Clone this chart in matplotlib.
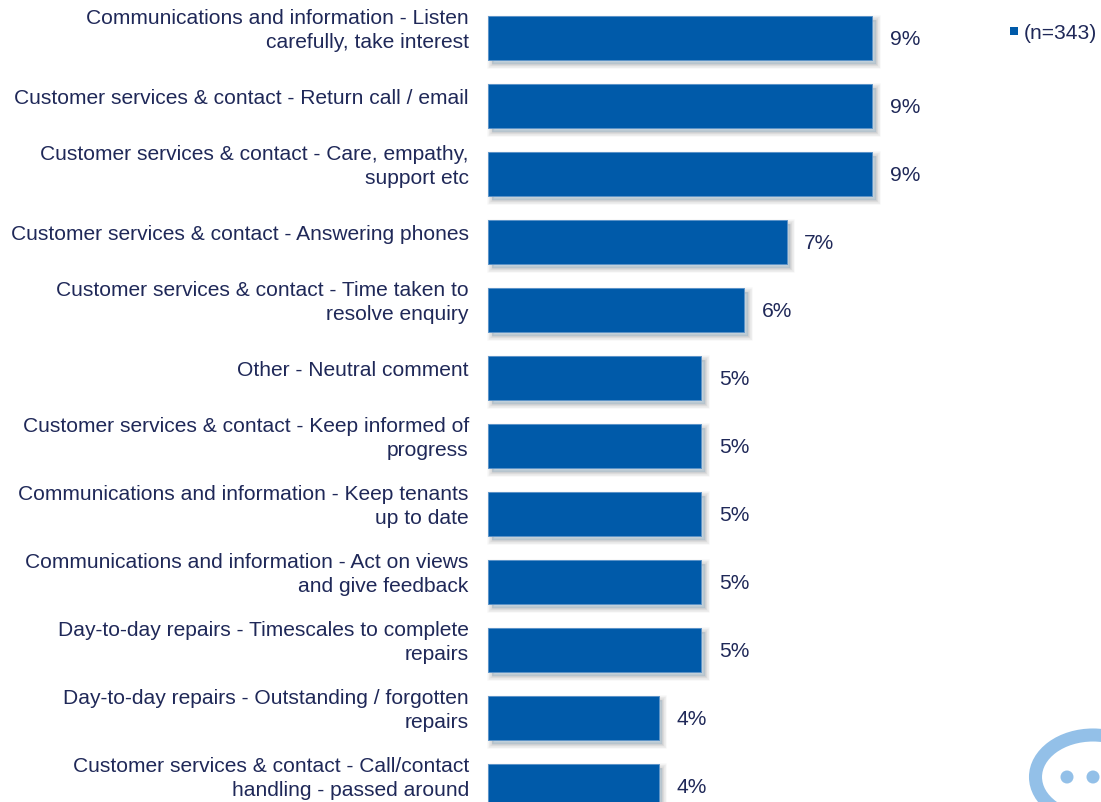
import matplotlib
matplotlib.use("Agg")
import matplotlib.pyplot as plt
import matplotlib.patheffects as pe
from matplotlib.patches import Ellipse, Circle, Rectangle

plt.rcParams['font.family'] = ['Liberation Sans', 'DejaVu Sans']

categories = [
    "Communications and information - Listen\ncarefully, take interest",
    "Customer services & contact - Return call / email",
    "Customer services & contact - Care, empathy,\nsupport etc",
    "Customer services & contact - Answering phones",
    "Customer services & contact - Time taken to\nresolve enquiry",
    "Other - Neutral comment",
    "Customer services & contact - Keep informed of\nprogress",
    "Communications and information - Keep tenants\nup to date",
    "Communications and information - Act on views\nand give feedback",
    "Day-to-day repairs - Timescales to complete\nrepairs",
    "Day-to-day repairs - Outstanding / forgotten\nrepairs",
    "Customer services & contact - Call/contact\nhandling - passed around",
]
values = [9, 9, 9, 7, 6, 5, 5, 5, 5, 5, 4, 4]
series_name = "(n=343)"

BAR_COLOR = "#005AA9"
EDGE_COLOR = "#5C93C8"
TEXT_COLOR = "#1F2858"
LOGO_COLOR = "#93C0E8"
FONT_SIZE = 15.1

W, H = 1101, 803
PX_PER_PCT = 42.65
ROW_PX = 68

fig = plt.figure(figsize=(W / 100, H / 100), dpi=100)
fig.patch.set_facecolor("white")

# bars axes fills the whole canvas, x=0 sits at the bar baseline
ax = fig.add_axes([0, 0, 1, 1])
ax.set_xlim(-488.2 / PX_PER_PCT, (W - 488.2) / PX_PER_PCT)
ax.set_ylim((H - 38.6) / ROW_PX, -38.6 / ROW_PX)
ax.axis('off')

# soft drop shadow: widening strokes at low alpha, nudged down and right
shadow = [
    pe.Stroke(offset=(2.5, -3), linewidth=w, foreground="#000000", alpha=0.022)
    for w in (7, 6, 5, 4, 3, 2, 1)
]
bars = ax.barh(range(len(values)), values, height=44 / ROW_PX,
               color=BAR_COLOR, edgecolor=EDGE_COLOR, linewidth=0.7)
for bar in bars:
    bar.set_path_effects(shadow + [pe.Normal()])

for i, (label, val) in enumerate(zip(categories, values)):
    ax.annotate(label, xy=(0, i), xytext=(-14, 5.6), textcoords='offset points',
                ha='right', va='center', multialignment='right',
                fontsize=FONT_SIZE, color=TEXT_COLOR, linespacing=1.33)
    ax.annotate(f"{val}%", xy=(val, i), xytext=(12.6, -0.8), textcoords='offset points',
                ha='left', va='center', fontsize=FONT_SIZE, color=TEXT_COLOR)

# legend and logo are placed in pixel coordinates
over = fig.add_axes([0, 0, 1, 1])
over.set_xlim(0, W)
over.set_ylim(H, 0)
over.axis('off')
over.patch.set_alpha(0)

over.add_patch(Rectangle((1010, 28), 8, 8, color=BAR_COLOR, lw=0))
over.text(1024, 33.5, series_name, ha='left', va='center',
          fontsize=FONT_SIZE, color=TEXT_COLOR)

over.add_patch(Ellipse((1093, 778), 115, 84, fill=False, ec=LOGO_COLOR, lw=9.4))
over.add_patch(Circle((1067, 778), 6.5, color=LOGO_COLOR, lw=0))
over.add_patch(Circle((1093, 778), 6.5, color=LOGO_COLOR, lw=0))

fig.savefig("out.png", dpi=100)
